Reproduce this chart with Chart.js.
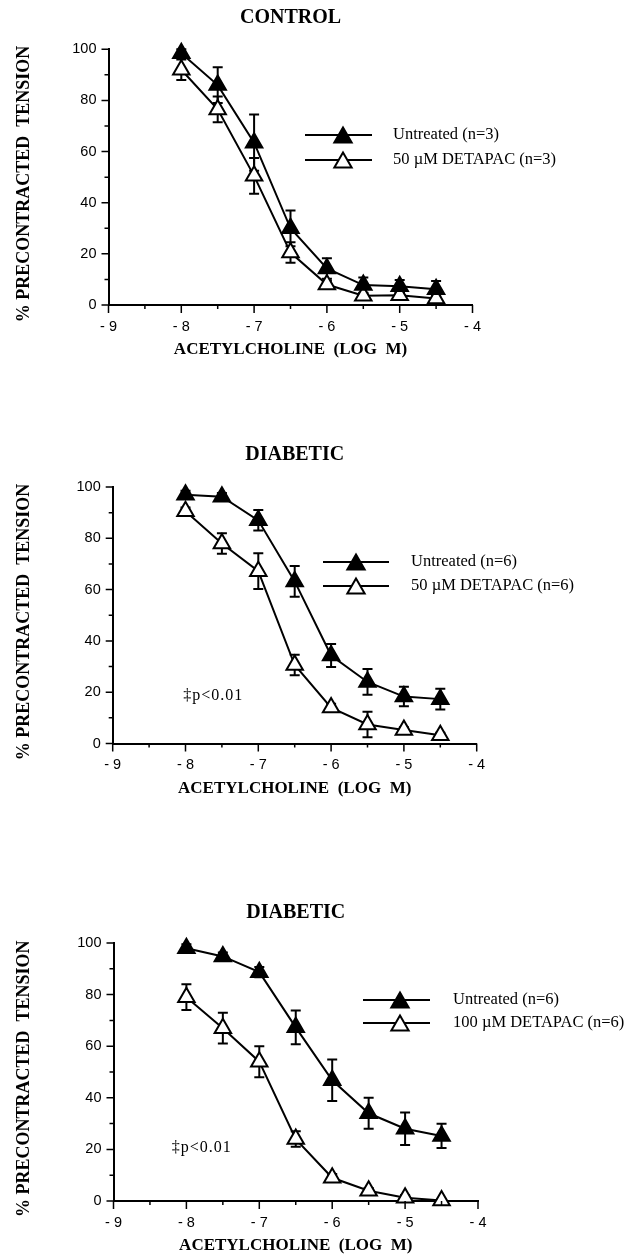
<!DOCTYPE html>
<html>
<head>
<meta charset="utf-8">
<script src="https://cdn.jsdelivr.net/npm/chart.js@4.4.0/dist/chart.umd.min.js"></script>
<style>
  body { margin: 0; background: #fff; }
  #page { position: relative; width: 636px; height: 1256px; }
  canvas { position: absolute; left: 0; }
</style>
</head>
<body>
<div id="page">
  <canvas id="control" width="636" height="380" style="top:0px"></canvas>
  <canvas id="diabetic50" width="636" height="398" style="top:420px"></canvas>
  <canvas id="diabetic100" width="636" height="376" style="top:880px"></canvas>
</div>
<script>
// log molar acetylcholine doses (x axis)
const logDose = [-8, -7.5, -7, -6.5, -6, -5.5, -5, -4.5];

// CONTROL panel, % precontracted tension (mean and SEM)
const controlUntreated = [98.5, 86, 63.5, 30, 14.3, 7.8, 7.3, 6.2];
const controlUntreatedSem = [1.5, 7, 11, 7, 4, 3, 2.5, 3.2];
const controlDetapac = [92, 76.5, 50.5, 20.5, 8, 3.6, 3.8, 2.5];
const controlDetapacSem = [4, 5, 7, 4, 1.5, 1, 1, 1];

// DIABETIC, 50 uM DETAPAC
const diab50Untreated = [97, 96.2, 87, 63.2, 34.3, 24, 18.3, 17.3];
const diab50UntreatedSem = [1.5, 1.5, 4, 6, 4.5, 5, 3.8, 4];
const diab50Detapac = [90.5, 78, 67.2, 30.6, 14, 7.4, 5.3, 3.2];
const diab50DetapacSem = [1.5, 4, 7, 4, 1.5, 5, 1, 1];

// DIABETIC, 100 uM DETAPAC
const diab100Untreated = [98, 94.8, 88.7, 67.3, 46.8, 34, 28, 25.2];
const diab100UntreatedSem = [1.5, 1.5, 2, 6.5, 8, 6, 6.3, 4.7];
const diab100Detapac = [79, 67, 54, 24, 9, 4, 1.3, 0.2];
const diab100DetapacSem = [5, 6, 6, 3, 1.5, 1, 1, 0.5];

const xTicks = { min: -9, max: -4, step: 0.5 };
const yTicks = { min: 0, max: 100, step: 10 };

const serif = "'Liberation Serif', 'Times New Roman', serif";
const sans = "'Liberation Sans', Arial, sans-serif";

// error bars drawn under the markers
const errorBars = {
  id: 'errorBars',
  beforeDatasetsDraw(chart) {
    const { ctx, scales: { x, y } } = chart;
    ctx.save();
    ctx.strokeStyle = '#000';
    ctx.lineWidth = 2;
    chart.data.datasets.forEach(ds => {
      ds.data.forEach((p, j) => {
        const px = x.getPixelForValue(p.x);
        const top = y.getPixelForValue(p.y + ds.sem[j]);
        const bot = y.getPixelForValue(Math.max(0, p.y - ds.sem[j]));
        ctx.beginPath();
        ctx.moveTo(px, top); ctx.lineTo(px, bot);
        ctx.moveTo(px - 5, top); ctx.lineTo(px + 5, top);
        ctx.moveTo(px - 5, bot); ctx.lineTo(px + 5, bot);
        ctx.stroke();
      });
    });
    ctx.restore();
  }
};

// outward tick marks: long at labelled ticks, short in between
const tickMarks = {
  id: 'tickMarks',
  afterDraw(chart) {
    const { ctx, scales: { x, y } } = chart;
    ctx.save();
    ctx.strokeStyle = '#000';
    ctx.lineWidth = 1.5;
    ctx.beginPath();
    x.ticks.forEach(t => {
      const px = x.getPixelForValue(t.value);
      const len = Number.isInteger(t.value) ? 8 : 4;
      ctx.moveTo(px, x.top); ctx.lineTo(px, x.top + len);
    });
    y.ticks.forEach(t => {
      const py = y.getPixelForValue(t.value);
      const len = t.value % 20 === 0 ? 7 : 4;
      ctx.moveTo(y.right - len, py); ctx.lineTo(y.right, py);
    });
    ctx.stroke();
    ctx.restore();
  }
};

// legend with line + marker, and the p-value note
const sketchLegend = {
  id: 'sketchLegend',
  afterDraw(chart, args, opts) {
    const { ctx, scales: { x, y } } = chart;
    ctx.save();
    chart.data.datasets.forEach((ds, i) => {
      const ly = opts.rows[i];
      const r = 10;
      ctx.strokeStyle = '#000';
      ctx.lineWidth = 2;
      ctx.beginPath();
      ctx.moveTo(opts.x1, ly); ctx.lineTo(opts.x2, ly);
      ctx.stroke();
      ctx.fillStyle = ds.pointBackgroundColor;
      ctx.lineWidth = ds.pointBorderWidth;
      Chart.helpers.drawPoint(ctx, {
        pointStyle: 'triangle', radius: r, rotation: 0, borderWidth: ds.pointBorderWidth
      }, opts.markerX, ly + r / 4);
      ctx.fillStyle = '#000';
      ctx.font = '16.5px ' + serif;
      ctx.textBaseline = 'middle';
      ctx.textAlign = 'left';
      ctx.fillText(ds.label, opts.textX, ly);
    });
    if (opts.note) {
      ctx.fillStyle = '#000';
      ctx.font = '16px ' + serif;
      ctx.letterSpacing = '1px';
      ctx.textBaseline = 'middle';
      ctx.textAlign = 'left';
      ctx.fillText(opts.note.text, x.getPixelForValue(opts.note.x), y.getPixelForValue(opts.note.y));
    }
    ctx.restore();
  }
};

function makePanel(id, title, series, geo, legend) {
  const lineH = 20 * 1.2;
  const datasets = series.map(s => ({
    label: s.label,
    data: logDose.map((d, i) => ({ x: d, y: s.values[i] })),
    sem: s.sem,
    borderColor: '#000',
    borderWidth: 2,
    pointStyle: 'triangle',
    pointRadius: 9.5,
    pointBorderWidth: 2,
    pointBorderColor: '#000',
    pointBackgroundColor: s.filled ? '#000' : '#fff',
    tension: 0,
    clip: false
  }));
  return new Chart(document.getElementById(id), {
    type: 'line',
    data: { datasets },
    plugins: [errorBars, tickMarks, sketchLegend],
    options: {
      responsive: false,
      animation: false,
      layout: {
        padding: { left: 0, top: 0, right: 636 - geo.right, bottom: geo.height - geo.bottom - 55 }
      },
      plugins: {
        legend: { display: false },
        tooltip: { enabled: false },
        title: {
          display: true,
          text: title,
          fullSize: false,
          color: '#000',
          font: { family: serif, size: 20, weight: 'bold' },
          padding: { top: geo.titleY - lineH / 2, bottom: geo.top - (geo.titleY - lineH / 2) - lineH }
        },
        sketchLegend: legend
      },
      scales: {
        x: {
          type: 'linear',
          min: xTicks.min, max: xTicks.max,
          afterFit: s => { s.height = 55; },
          border: { display: true, color: '#000', width: 2 },
          grid: { drawOnChartArea: false, drawTicks: false },
          ticks: {
            stepSize: xTicks.step, autoSkip: false, maxRotation: 0, padding: 13,
            color: '#000', font: { family: sans, size: 14.5 },
            callback: v => Number.isInteger(v) ? '- ' + Math.abs(v) : ''
          },
          title: {
            display: true, text: 'ACETYLCHOLINE  (LOG  M)', color: '#000',
            font: { family: serif, size: 17, weight: 'bold' }, padding: { top: 0, bottom: 0 }
          }
        },
        y: {
          min: yTicks.min, max: yTicks.max,
          afterFit: s => { s.width = geo.left; },
          border: { display: true, color: '#000', width: 2 },
          grid: { drawOnChartArea: false, drawTicks: false },
          ticks: {
            stepSize: yTicks.step, autoSkip: false, padding: 12,
            color: '#000', font: { family: sans, size: 14.5 },
            callback: v => v % 20 === 0 ? v : ''
          },
          title: {
            display: true, text: '% PRECONTRACTED  TENSION   ', color: '#000',
            font: { family: serif, size: 18, weight: 'bold' }, padding: { top: 14, bottom: 0 }
          }
        }
      }
    }
  });
}

makePanel('control', 'CONTROL', [
  { label: 'Untreated (n=3)', values: controlUntreated, sem: controlUntreatedSem, filled: true },
  { label: '50 \u00b5M DETAPAC (n=3)', values: controlDetapac, sem: controlDetapacSem, filled: false }
], { height: 380, left: 108.5, right: 472.5, top: 49.3, bottom: 305, titleY: 17.5 },
{ x1: 305, x2: 372, markerX: 343, textX: 393, rows: [135, 160] });

makePanel('diabetic50', 'DIABETIC', [
  { label: 'Untreated (n=6)', values: diab50Untreated, sem: diab50UntreatedSem, filled: true },
  { label: '50 \u00b5M DETAPAC (n=6)', values: diab50Detapac, sem: diab50DetapacSem, filled: false }
], { height: 398, left: 112.7, right: 476.7, top: 67, bottom: 323.5, titleY: 35 },
{ x1: 323, x2: 389, markerX: 356, textX: 411, rows: [142, 166], note: { text: '\u2021p<0.01', x: -8.03, y: 18.7 } });

makePanel('diabetic100', 'DIABETIC', [
  { label: 'Untreated (n=6)', values: diab100Untreated, sem: diab100UntreatedSem, filled: true },
  { label: '100 \u00b5M DETAPAC (n=6)', values: diab100Detapac, sem: diab100DetapacSem, filled: false }
], { height: 376, left: 113.5, right: 478, top: 63, bottom: 321, titleY: 33 },
{ x1: 363, x2: 430, markerX: 400, textX: 453, rows: [120, 143], note: { text: '\u2021p<0.01', x: -8.2, y: 20.5 } });
</script>
</body>
</html>
